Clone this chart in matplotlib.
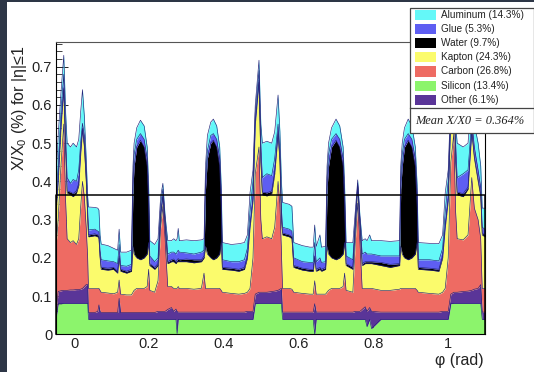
import matplotlib
matplotlib.use('Agg')
import matplotlib.pyplot as plt
from matplotlib.patches import Rectangle
from matplotlib.ticker import MultipleLocator
import numpy as np

plt.rcParams['font.family'] = ['Liberation Sans', 'DejaVu Sans']
plt.rcParams['mathtext.fontset'] = 'custom'
plt.rcParams['mathtext.rm'] = 'Liberation Sans'
plt.rcParams['mathtext.it'] = 'Liberation Sans:italic'

# ---------------- data (cumulative level of each stacked material) ----------------
phi = [-0.048, -0.043, -0.035, -0.028, -0.023, -0.019, -0.010, -0.003, 0.006, 0.012,
       0.017, 0.022, 0.027, 0.032, 0.036, 0.038, 0.055, 0.063, 0.066, 0.069,
       0.072, 0.090, 0.105, 0.116, 0.120, 0.124, 0.140, 0.153, 0.157, 0.160,
       0.167, 0.177, 0.187, 0.195, 0.199, 0.202, 0.215, 0.224, 0.231, 0.237,
       0.243, 0.250, 0.260, 0.266, 0.272, 0.275, 0.278, 0.281, 0.300, 0.320,
       0.340, 0.347, 0.351, 0.356, 0.365, 0.372, 0.381, 0.389, 0.393, 0.396,
       0.420, 0.440, 0.455, 0.463, 0.470, 0.478, 0.484, 0.494, 0.499, 0.503,
       0.515, 0.528, 0.536, 0.545, 0.550, 0.554, 0.557, 0.575, 0.582, 0.587,
       0.610, 0.630, 0.639, 0.643, 0.647, 0.657, 0.661, 0.672, 0.676, 0.680,
       0.688, 0.700, 0.710, 0.719, 0.723, 0.727, 0.745, 0.752, 0.758, 0.764,
       0.770, 0.778, 0.783, 0.790, 0.795, 0.820, 0.845, 0.870, 0.873, 0.877,
       0.883, 0.893, 0.903, 0.912, 0.917, 0.920, 0.950, 0.975, 0.985, 0.992,
       1.000, 1.007, 1.015, 1.020, 1.024, 1.040, 1.053, 1.063, 1.070, 1.080,
       1.087, 1.091, 1.098]

silicon_top = [.045, .080, .080, .081, .081, .081, .081, .081, .081, .081,
               .081, .081, .081, .081, .081, .039, .039, .039, .039, .039,
               .039, .039, .039, .039, .039, .039, .039, .039, .039, .039,
               .039, .039, .039, .039, .039, .039, .039, .039, .039, .039,
               .039, .039, .039, .039, .039, .002, .039, .039, .039, .039,
               .039, .039, .039, .039, .039, .039, .039, .039, .039, .039,
               .039, .039, .039, .039, .039, .039, .080, .081, .081, .081,
               .081, .081, .081, .081, .081, .081, .039, .039, .039, .039,
               .039, .039, .039, .000, .039, .039, .039, .039, .039, .039,
               .039, .039, .039, .039, .039, .039, .039, .039, .039, .039,
               .039, .039, .020, .039, .015, .039, .039, .039, .039, .039,
               .039, .039, .039, .039, .039, .039, .039, .039, .039, .039,
               .039, .080, .081, .081, .081, .081, .081, .081, .081, .081,
               .081, .039, .039]

other_top = [.060, .112, .114, .115, .115, .115, .116, .116, .117, .117,
             .118, .120, .125, .130, .130, .057, .057, .060, .077, .060,
             .057, .057, .057, .057, .094, .057, .057, .057, .057, .057,
             .057, .057, .057, .057, .057, .057, .057, .060, .060, .060,
             .060, .065, .070, .060, .066, .060, .058, .058, .058, .058,
             .058, .058, .058, .058, .058, .058, .058, .058, .058, .058,
             .058, .058, .058, .060, .060, .060, .105, .110, .110, .110,
             .110, .112, .113, .115, .118, .120, .058, .058, .058, .058,
             .058, .058, .058, .080, .058, .058, .058, .058, .058, .058,
             .058, .058, .058, .058, .058, .058, .058, .060, .060, .060,
             .065, .072, .060, .070, .060, .058, .058, .058, .058, .058,
             .058, .058, .058, .058, .058, .058, .058, .058, .060, .060,
             .060, .105, .110, .110, .110, .112, .113, .115, .118, .120,
             .130, .058, .058]

carbon_top = [.24, .30, .45, .55, .35, .25, .24, .245, .235, .25,
              .33, .40, .36, .28, .20, .12, .12, .12, .12, .115,
              .11, .108, .106, .11, .142, .105, .103, .103, .11, .115,
              .12, .12, .12, .125, .17, .115, .11, .14, .28, .334,
              .25, .125, .125, .12, .12, .12, .125, .12, .12, .118,
              .12, .16, .12, .12, .12, .12, .12, .12, .115, .11,
              .107, .105, .107, .11, .12, .20, .42, .49, .30, .25,
              .255, .25, .28, .40, .34, .22, .12, .12, .118, .11,
              .107, .105, .105, .14, .105, .105, .105, .105, .11, .115,
              .12, .12, .12, .125, .16, .115, .11, .25, .343, .24,
              .12, .12, .12, .12, .12, .115, .115, .118, .12, .12,
              .12, .12, .12, .12, .115, .11, .107, .105, .11, .12,
              .20, .45, .525, .32, .25, .247, .26, .41, .33, .30,
              .25, .12, .12]

kapton_top = [.33, .40, .55, .64, .48, .37, .365, .36, .37, .39,
              .47, .535, .49, .40, .30, .255, .258, .255, .25, .20,
              .17, .168, .17, .16, .20, .165, .16, .165, .23, .21,
              .20, .195, .20, .21, .24, .18, .17, .18, .31, .36,
              .28, .185, .19, .19, .185, .19, .19, .19, .19, .187,
              .19, .20, .23, .21, .20, .195, .20, .21, .24, .17,
              .168, .165, .17, .20, .28, .35, .55, .66, .45, .365,
              .362, .368, .42, .525, .45, .30, .26, .255, .25, .175,
              .168, .165, .165, .20, .165, .17, .165, .17, .23, .21,
              .20, .195, .20, .21, .24, .18, .17, .29, .386, .28,
              .18, .185, .185, .185, .185, .18, .175, .18, .23, .21,
              .20, .195, .20, .21, .24, .17, .168, .165, .20, .28,
              .35, .57, .66, .45, .365, .36, .38, .53, .46, .40,
              .36, .26, .255]

water_top = [.335, .405, .555, .645, .485, .375, .372, .368, .376, .395,
             .475, .54, .495, .405, .305, .26, .263, .26, .255, .205,
             .175, .173, .175, .165, .205, .17, .165, .17, .38, .44,
             .49, .508, .49, .44, .33, .185, .175, .185, .315, .365,
             .285, .19, .195, .197, .19, .195, .198, .195, .197, .195,
             .195, .205, .38, .46, .50, .508, .49, .44, .33, .175,
             .173, .17, .175, .205, .285, .355, .555, .665, .455, .372,
             .37, .375, .425, .53, .455, .305, .265, .26, .255, .18,
             .173, .17, .17, .205, .17, .175, .17, .175, .38, .44,
             .49, .508, .49, .44, .33, .185, .175, .295, .39, .285,
             .185, .19, .19, .19, .19, .188, .183, .185, .38, .44,
             .49, .508, .49, .44, .33, .175, .173, .17, .205, .285,
             .355, .575, .665, .455, .372, .368, .385, .535, .465, .405,
             .365, .265, .26]

glue_top = [.36, .44, .59, .68, .52, .41, .395, .405, .40, .43,
            .50, .552, .52, .43, .32, .273, .275, .27, .268, .22,
            .195, .192, .19, .185, .235, .18, .178, .183, .41, .47,
            .51, .525, .51, .46, .36, .205, .19, .20, .34, .38,
            .30, .21, .215, .215, .21, .215, .22, .215, .213, .21,
            .215, .22, .41, .48, .52, .525, .51, .46, .36, .195,
            .19, .19, .195, .225, .32, .40, .58, .69, .50, .41,
            .42, .415, .46, .55, .48, .33, .28, .275, .27, .20,
            .19, .188, .188, .24, .19, .20, .188, .19, .41, .47,
            .51, .525, .51, .46, .36, .205, .195, .31, .395, .30,
            .21, .215, .21, .21, .21, .205, .205, .205, .41, .47,
            .51, .525, .51, .46, .36, .195, .195, .192, .225, .32,
            .40, .60, .69, .50, .41, .42, .43, .56, .49, .43,
            .385, .28, .275]

aluminum_top = [.42, .52, .64, .73, .58, .50, .49, .50, .49, .51,
                .58, .64, .57, .46, .36, .333, .332, .33, .325, .26,
                .236, .232, .225, .22, .275, .215, .215, .22, .44, .50,
                .54, .56, .545, .49, .39, .245, .235, .25, .36, .395,
                .31, .245, .245, .25, .245, .25, .277, .245, .247, .245,
                .247, .25, .44, .52, .555, .563, .545, .49, .39, .24,
                .235, .237, .24, .26, .37, .43, .60, .717, .55, .50,
                .505, .50, .53, .626, .53, .40, .345, .34, .335, .24,
                .232, .228, .228, .286, .23, .26, .228, .23, .44, .50,
                .54, .563, .545, .49, .39, .24, .24, .33, .404, .31,
                .245, .25, .245, .26, .245, .245, .243, .245, .44, .50,
                .54, .563, .545, .49, .39, .24, .238, .237, .26, .37,
                .43, .62, .72, .55, .50, .49, .50, .64, .55, .50,
                .44, .33, .33]

mean_value = 0.364

legend_labels = ['Aluminum (14.3%)', 'Glue (5.3%)', 'Water (9.7%)', 'Kapton (24.3%)',
                 'Carbon (26.8%)', 'Silicon (13.4%)', 'Other (6.1%)']
y_ticks = [0, 0.1, 0.2, 0.3, 0.4, 0.5, 0.6, 0.7]
y_tick_labels = ['0', '0.1', '0.2', '0.3', '0.4', '0.5', '0.6', '0.7']
x_ticks = [0, 0.2, 0.4, 0.6, 0.8, 1.0]
x_tick_labels = ['0', '0.2', '0.4', '0.6', '0.8', '1']

# ---------------- styling ----------------
c_al, c_glue, c_water, c_kap, c_carb, c_si, c_oth = (
    '#64f8f8', '#5e5ef2', '#000000', '#fbfb6c', '#ee6b63', '#8cf46c', '#5a3598')
layer_levels = [silicon_top, other_top, carbon_top, kapton_top, water_top, glue_top, aluminum_top]
layer_colors = [c_si, c_oth, c_carb, c_kap, c_water, c_glue, c_al]
legend_colors = [c_al, c_glue, c_water, c_kap, c_carb, c_si, c_oth]

W, H = 534, 372
fig = plt.figure(figsize=(W / 100, H / 100), dpi=100)
fig.patch.set_facecolor('white')

def fx(px):
    return px / W

def fy(py):
    return 1 - py / H

ax = fig.add_axes([fx(56.3), fy(334.3), fx(485) - fx(56.3), fy(41.7) - fy(334.3)])
xmin, xmax = -0.048, 1.0984
ax.set_xlim(xmin, xmax)
ax.set_ylim(0, 0.7654)

phi_arr = np.array(phi)
lower = np.zeros(len(phi))
for top, col in zip(layer_levels, layer_colors):
    top = np.array(top)
    ax.fill_between(phi_arr, lower, top, color=col, lw=0, zorder=1)
    lower = top
for top in layer_levels:
    ax.plot(phi_arr, top, color='#23237a', lw=0.45, zorder=2)

# mean histogram outline
ax.plot([xmin, xmin, xmax, xmax], [0, mean_value, mean_value, 0], color='black',
        lw=1.1, zorder=3, clip_on=False)

ax.set_axisbelow(True)
for s in ['left', 'bottom', 'top']:
    ax.spines[s].set_linewidth(0.8)
    ax.spines[s].set_zorder(4)
ax.spines['top'].set_color('#555555')
ax.spines['right'].set_zorder(0.5)
ax.spines['right'].set_linewidth(0.8)

ax.set_yticks(y_ticks)
ax.set_yticklabels(y_tick_labels)
ax.set_xticks(x_ticks)
ax.set_xticklabels(x_tick_labels)
ax.yaxis.set_minor_locator(MultipleLocator(0.02))
ax.tick_params(axis='y', which='major', direction='in', length=8.6, width=0.7,
               labelsize=10.5, pad=3, right=False, colors='#222222')
ax.tick_params(axis='y', which='minor', direction='in', length=4.3, width=0.6, right=False,
               colors='#222222')
ax.tick_params(axis='x', which='major', direction='in', length=8.6, width=0.7,
               labelsize=10.5, pad=2, top=False, colors='#222222')

ax.set_ylabel('X/X$_0$ (%) for |η|≤1', fontsize=11.5, color='#222222')
ax.yaxis.label.set_va('center')
ax.yaxis.set_label_coords(-0.0856, 0.772)
fig.text(fx(484), fy(360), 'φ (rad)', ha='right', va='center', fontsize=11.5,
         color='#222222')

# legend boxes
lx0, lx1 = 409.5, 533.5
ly0, ly1, ly2 = 8.5, 107.5, 133.0
fig.add_artist(Rectangle((fx(lx0), fy(ly2)), fx(lx1) - fx(lx0), fy(ly0) - fy(ly2),
                         transform=fig.transFigure, facecolor='white',
                         edgecolor='#444444', lw=0.9, zorder=10))
fig.add_artist(plt.Line2D([fx(lx0), fx(lx1)], [fy(ly1), fy(ly1)], transform=fig.transFigure,
                          color='#444444', lw=0.9, zorder=11))
row0, drow = 14.7, 14.2
for i, (lab, col) in enumerate(zip(legend_labels, legend_colors)):
    yc = row0 + i * drow
    fig.add_artist(Rectangle((fx(415), fy(yc + 5)), fx(436) - fx(415), fy(yc - 5) - fy(yc + 5),
                             transform=fig.transFigure, facecolor=col, lw=0, zorder=11))
    fig.text(fx(440.7), fy(yc), lab, ha='left', va='center', fontsize=7.2,
             color='#222222', zorder=12)
fig.text(fx(469.5), fy(120.5), 'Mean X/X0 = 0.364%', ha='center', va='center',
         fontsize=8.9, family=['Liberation Serif', 'DejaVu Serif'], style='italic',
         color='#222222', zorder=12)

# dark page border
fig.add_artist(Rectangle((0, 0), fx(7), 1, transform=fig.transFigure,
                         facecolor='#2d3646', lw=0, zorder=20))
fig.add_artist(Rectangle((0, fy(2)), 1, fy(0) - fy(2), transform=fig.transFigure,
                         facecolor='#2d3646', lw=0, zorder=20))

fig.savefig('out.png', dpi=100, facecolor='white')
